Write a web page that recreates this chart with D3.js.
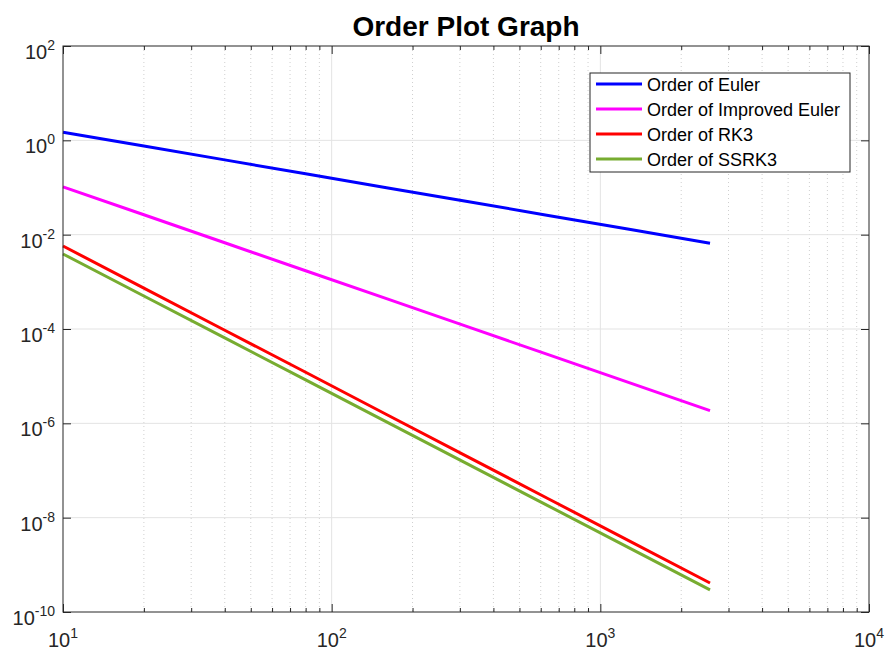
<!DOCTYPE html>
<html><head><meta charset="utf-8">
<script src="https://cdn.jsdelivr.net/npm/d3@7"></script>
<style>body{margin:0;background:#fff}svg{font-family:"Liberation Sans",Arial,sans-serif}</style>
</head><body><svg id="c" width="885" height="650"></svg>
<script>
const stepSizes = [10, 20, 40, 80, 160, 320, 640, 1280, 2560];
const seriesNames = ["Order of Euler", "Order of Improved Euler", "Order of RK3", "Order of SSRK3"];
const seriesColors = ["#0000FF", "#FF00FF", "#FF0000", "#77AC30"];
const eulerErr = [1.49, 0.759, 0.385, 0.195, 0.0991, 0.0504, 0.0256, 0.0130, 0.00659];
const improvedEulerErr = [0.103, 0.0264, 0.00673, 0.00172, 4.39e-4, 1.12e-4, 2.86e-5, 7.30e-6, 1.86e-6];
const rk3Err = [5.75e-3, 7.36e-4, 9.42e-5, 1.21e-5, 1.54e-6, 1.97e-7, 2.52e-8, 3.23e-9, 4.12e-10];
const ssrk3Err = [3.89e-3, 5.01e-4, 6.46e-5, 8.32e-6, 1.07e-6, 1.38e-7, 1.78e-8, 2.29e-9, 2.95e-10];
const xTickExps = [1, 2, 3, 4];
const yTickExps = [2, 0, -2, -4, -6, -8, -10];
const titleText = "Order Plot Graph";

const allSeries = [eulerErr, improvedEulerErr, rk3Err, ssrk3Err];
const svg = d3.select("#c");
const L = 63, R = 869, T = 46, B = 612;
const x = d3.scaleLog().domain([10, 1e4]).range([L, R]);
const y = d3.scaleLog().domain([1e-10, 1e2]).range([B, T]);
const axisCol = "#262626";

const minorX = [];
for (let e = 1; e < 4; e++) for (let m = 2; m <= 9; m++) minorX.push(m * Math.pow(10, e));

const g = svg.append("g");
g.selectAll(".mx").data(minorX).join("line")
  .attr("x1", d => x(d)).attr("x2", d => x(d)).attr("y1", T).attr("y2", B)
  .attr("stroke", "#cfcfcf").attr("stroke-width", 1).attr("stroke-dasharray", "1,3");
g.selectAll(".gx").data(xTickExps.slice(1, -1)).join("line")
  .attr("x1", d => x(Math.pow(10, d))).attr("x2", d => x(Math.pow(10, d))).attr("y1", T).attr("y2", B)
  .attr("stroke", "#e3e3e3").attr("stroke-width", 1);
g.selectAll(".gy").data(yTickExps.slice(1, -1)).join("line")
  .attr("y1", d => y(Math.pow(10, d))).attr("y2", d => y(Math.pow(10, d))).attr("x1", L).attr("x2", R)
  .attr("stroke", "#e3e3e3").attr("stroke-width", 1);

const line = d3.line().x((d, i) => x(stepSizes[i])).y(d => y(d));
allSeries.forEach((s, k) => {
  svg.append("path").datum(s).attr("d", line).attr("fill", "none")
    .attr("stroke", seriesColors[k]).attr("stroke-width", 3);
});

const fmt = () => "";
const xb = d3.axisBottom(x).tickValues(xTickExps.map(e => Math.pow(10, e))).tickSize(-8).tickFormat(fmt);
const xbm = d3.axisBottom(x).tickValues(minorX).tickSize(-4).tickFormat(fmt);
const xt = d3.axisTop(x).tickValues(xTickExps.map(e => Math.pow(10, e))).tickSize(-8).tickFormat(fmt);
const xtm = d3.axisTop(x).tickValues(minorX).tickSize(-4).tickFormat(fmt);
const yl = d3.axisLeft(y).tickValues(yTickExps.map(e => Math.pow(10, e))).tickSize(-8).tickFormat(fmt);
const yr = d3.axisRight(y).tickValues(yTickExps.map(e => Math.pow(10, e))).tickSize(-8).tickFormat(fmt);
[[xb, `translate(0,${B})`], [xbm, `translate(0,${B})`], [xt, `translate(0,${T})`], [xtm, `translate(0,${T})`],
 [yl, `translate(${L},0)`], [yr, `translate(${R},0)`]].forEach(([a, tr]) => {
  const s = svg.append("g").attr("transform", tr).call(a);
  s.select(".domain").remove();
  s.selectAll("line").attr("stroke", axisCol);
});
svg.append("rect").attr("x", L).attr("y", T).attr("width", R - L).attr("height", B - T)
  .attr("fill", "none").attr("stroke", axisCol).attr("stroke-width", 1);

const fs = 20, efs = 14;
xTickExps.forEach(e => {
  const t = svg.append("text").attr("x", x(Math.pow(10, e))).attr("y", B + 35)
    .attr("text-anchor", "middle").attr("font-size", fs).attr("fill", "#262626");
  t.append("tspan").text("10");
  t.append("tspan").attr("dy", -9).attr("font-size", efs).text(e);
});
yTickExps.forEach(e => {
  const t = svg.append("text").attr("x", L - 8).attr("y", y(Math.pow(10, e)) + 13)
    .attr("text-anchor", "end").attr("font-size", fs).attr("fill", "#262626");
  t.append("tspan").text("10");
  t.append("tspan").attr("dy", -9).attr("font-size", efs).text(e);
});

svg.append("text").attr("x", (L + R) / 2).attr("y", 36).attr("text-anchor", "middle")
  .attr("font-size", 28).attr("font-weight", "bold").attr("fill", "#000").text(titleText);

const lg = svg.append("g");
lg.append("rect").attr("x", 590).attr("y", 73).attr("width", 260).attr("height", 99)
  .attr("fill", "#fff").attr("stroke", axisCol).attr("stroke-width", 1);
seriesNames.forEach((n, i) => {
  const cy = 84 + i * 25;
  lg.append("line").attr("x1", 596).attr("x2", 642).attr("y1", cy).attr("y2", cy)
    .attr("stroke", seriesColors[i]).attr("stroke-width", 3);
  lg.append("text").attr("x", 647).attr("y", cy + 7).attr("font-size", 18).attr("fill", "#000").text(n);
});
</script></body></html>
